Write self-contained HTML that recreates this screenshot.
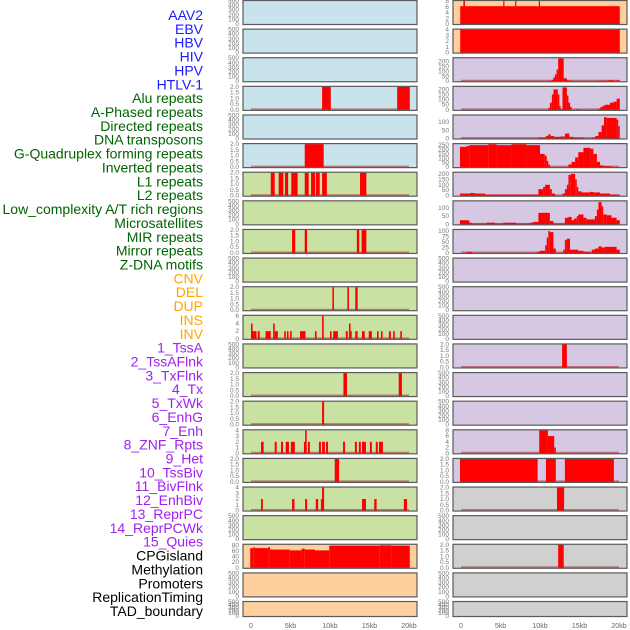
<!DOCTYPE html>
<html><head><meta charset="utf-8"><style>
html,body{margin:0;padding:0;background:#fff;width:630px;height:630px;overflow:hidden}
svg{display:block}
</style></head><body>
<svg id="chart" width="630" height="630" xmlns="http://www.w3.org/2000/svg" font-family="Liberation Sans, sans-serif"></svg>
<script>
// ---- label data ----
const trackLabels = ["AAV2","EBV","HBV","HIV","HPV","HTLV-1","Alu repeats","A-Phased repeats","Directed repeats","DNA transposons","G-Quadruplex forming repeats","Inverted repeats","L1 repeats","L2 repeats","Low_complexity A/T rich regions","Microsatellites","MIR repeats","Mirror repeats","Z-DNA motifs","CNV","DEL","DUP","INS","INV","1_TssA","2_TssAFlnk","3_TxFlnk","4_Tx","5_TxWk","6_EnhG","7_Enh","8_ZNF_Rpts","9_Het","10_TssBiv","11_BivFlnk","12_EnhBiv","13_ReprPC","14_ReprPCWk","15_Quies","CPGisland","Methylation","Promoters","ReplicationTiming","TAD_boundary"];
const labelGroups = [6,13,5,15,5];
const groupColors = ["#1a1aff","#006400","#ffa500","#a020f0","#000000"];
const xTicks = [0,5,10,15,20];
const xTickLabels = ["0","5kb","10kb","15kb","20kb"];

// ---- y tick sets ----
const tEmpty=[0,100,200,300,400,500], t2=[0,0.5,1,1.5,2], t6=[0,2,4,6], t4=[0,1,2,3,4], t80=[0,20,40,60,80], t8=[0,2,4,6,8];
const t200=[0,50,100,150,200], t100=[0,50,100], t250=[0,50,100,150,200,250], t100q=[0,25,50,75,100];

// ---- left column bar data [startKb, endKb, value] ----
const L3=[[9.0,10.1,2],[18.5,20.1,2]];
const L5=[[6.8,9.2,2]];
const L6=[[2.5,3.0,2],[3.5,4.1,2],[4.3,4.7,2],[5.1,5.9,2],[6.8,7.3,2],[7.6,8.1,2],[8.2,8.7,2],[9.0,9.6,2],[13.8,14.6,2]];
const L8=[[5.2,5.6,2],[6.8,7.1,2],[13.4,13.7,2],[14.0,14.6,2]];
const L10=[[10.3,10.5,2],[12.2,12.4,2],[13.2,13.5,2]];
const L11=[[0,0.2,4],[0.1,0.7,2],[0.85,1.1,2],[1.85,2.5,2],[2.8,3.0,4],[3.0,3.4,2],[4.2,4.4,2],[4.55,4.75,2],[4.95,5.15,2],[6.2,6.9,2],[8.1,8.3,2],[9.0,9.2,6],[10.0,10.2,2],[10.4,11.0,2],[12.0,12.25,2],[12.4,12.6,4],[12.6,12.75,2],[13.2,13.5,2],[14.05,14.4,2],[14.9,15.3,2],[15.95,16.15,2],[16.45,16.65,2],[17.45,17.7,2],[18.0,18.2,2],[18.9,19.1,2]];
const L13=[[11.7,12.15,2],[18.7,19.1,2]];
const L14=[[9.0,9.25,2]];
const L15=[[1.27,1.6,2],[3.0,3.25,2],[3.8,4.05,2],[4.4,4.8,2],[5.05,5.55,2],[6.7,6.95,2],[6.85,7.05,4],[7.2,7.45,2],[8.6,8.85,2],[9.0,9.35,2],[9.5,9.75,2],[11.65,11.9,2],[13.15,13.4,2],[13.65,13.9,2],[14.05,14.55,2],[15.05,15.3,2],[15.8,16.05,2],[16.2,16.7,2]];
const L16=[[10.6,11.15,2]];
const L17=[[1.27,1.5,2],[5.2,5.5,2],[6.85,7.1,2],[8.2,8.5,2],[8.85,9.25,2],[9.0,9.25,4],[14.05,14.55,2],[15.6,15.9,2],[19.35,19.75,2]];
const L19=[[-0.1,0.3,70],[0.3,0.5,73],[0.5,2.2,70],[2.2,2.4,74],[2.4,4.9,65],[4.9,6.4,62],[6.4,6.8,68],[6.8,8.1,65],[8.1,9.9,62],[9.9,16.3,79],[16.3,17.8,80],[17.8,20.1,79]];

// ---- right column bar data ----
const R0=[[-0.1,20.1,6.2],[0.3,0.5,8],[5.35,5.5,8],[6.85,7.0,8],[9.85,10.0,8]];
const R1=[[-0.1,20.1,4]];
const R2=[[11.05,11.5,5],[11.5,11.7,15],[11.7,11.9,40],[11.9,12.1,70],[12.1,12.3,120],[12.3,13.0,232],[13.0,13.4,30],[13.4,13.7,10],[13.7,14.2,5],[17.4,18.65,5],[18.65,19.3,10],[19.3,19.7,5],[19.7,20.1,10]];
const R3=[[11.05,11.25,20],[11.25,11.5,70],[11.5,11.7,150],[11.7,12.25,200],[12.25,12.45,150],[12.45,12.6,40],[12.6,12.85,5],[12.85,13.4,220],[13.4,13.6,140],[13.6,13.8,70],[13.8,14.0,30],[14.55,15.05,5],[17.4,17.6,10],[17.6,17.9,25],[17.9,18.2,40],[18.2,18.85,50],[18.85,19.3,70],[19.3,19.7,80],[19.7,20.1,110]];
const R4=[[9.8,10.75,5],[10.75,11.05,15],[11.05,11.35,25],[11.35,11.8,15],[11.8,12.55,10],[12.55,13.15,12],[13.15,13.7,30],[13.7,14.15,10],[14.15,15.5,5],[16.55,17.0,5],[17.0,17.4,15],[17.4,17.8,40],[17.8,18.1,80],[18.1,18.45,130],[18.45,19.7,125],[19.7,19.9,115],[19.9,20.1,75]];
const R5=[[-0.13,0.7,230],[0.7,1.05,240],[1.05,3.45,250],[3.45,4.5,260],[4.5,6.4,250],[6.4,8.3,260],[8.3,10.0,250],[10.0,10.6,150],[10.6,10.85,130],[10.85,11.05,70],[11.05,11.25,30],[13.6,14.0,30],[14.0,14.45,60],[14.45,14.85,110],[14.85,15.5,170],[15.5,16.35,220],[16.35,16.75,210],[16.75,17.2,150],[17.2,17.6,60],[17.6,18.0,20],[18.0,19.05,10]];
const R6=[[-0.13,1.15,20],[1.15,1.75,25],[1.75,3.05,20],[3.05,9.8,10],[9.8,10.4,60],[10.4,10.65,80],[10.65,11.25,100],[11.25,11.5,60],[11.5,11.9,20],[12.85,13.15,20],[13.15,13.4,60],[13.4,13.6,100],[13.6,13.9,190],[13.9,14.45,200],[14.45,14.65,150],[14.65,14.85,80],[14.85,15.25,40],[15.25,16.3,30],[16.3,16.75,35],[16.75,17.6,30],[17.6,18.85,20],[18.85,20.1,10]];
const R7=[[-0.13,1.05,25],[1.05,1.35,10],[1.35,3.25,5],[3.25,4.3,10],[4.3,5.35,5],[5.35,6.95,10],[6.95,8.75,5],[8.75,9.15,10],[9.15,9.8,15],[9.8,11.25,70],[11.25,11.7,20],[11.7,13.15,5],[13.15,13.6,40],[13.6,14.0,45],[14.0,14.3,25],[14.3,14.65,35],[14.65,14.85,50],[14.85,15.5,60],[15.5,15.9,40],[15.9,16.95,30],[16.95,17.2,50],[17.2,17.4,90],[17.4,17.8,135],[17.8,18.0,110],[18.0,18.45,60],[18.45,19.05,55],[19.05,19.7,40],[19.7,20.1,25]];
const R8=[[0.7,1.35,5],[9.6,10.0,5],[10.0,10.65,10],[10.65,10.85,35],[10.85,11.05,70],[11.05,11.25,100],[11.25,11.7,95],[11.7,12.0,20],[12.95,13.15,15],[13.15,13.4,60],[13.4,13.8,65],[13.8,14.85,15],[14.85,15.5,10],[15.5,16.35,5],[16.55,16.95,15],[16.95,17.4,20],[17.4,17.8,30],[17.8,18.2,25],[18.2,19.7,28],[19.7,20.1,15]];
const R12=[[12.8,13.4,2]];
const R15=[[9.9,11.0,8],[11.0,11.8,6],[11.8,12.0,2]];
const R16=[[-0.13,9.7,2],[10.75,12.0,2],[13.15,19.35,2]];
const R17=[[12.15,13.05,2]];
const R19=[[12.3,13.0,2]];

// ---- colors ----
const BLUE="#c8e3ec", GREEN="#c9e1a3", PEACH="#ffcf9e", LAV="#d6c7e3", GRAY="#d0d0d0";
// panels: [col,row,bg,ticks,ymax,bars,decimals]
const panels=[
 [0,0,BLUE,tEmpty,500,null,0],[0,1,BLUE,tEmpty,500,null,0],[0,2,BLUE,tEmpty,500,null,0],[0,3,BLUE,t2,2,L3,1],[0,4,BLUE,tEmpty,500,null,0],[0,5,BLUE,t2,2,L5,1],
 [0,6,GREEN,t2,2,L6,1],[0,7,GREEN,tEmpty,500,null,0],[0,8,GREEN,t2,2,L8,1],[0,9,GREEN,tEmpty,500,null,0],[0,10,GREEN,t2,2,L10,1],[0,11,GREEN,t6,6,L11,0],
 [0,12,GREEN,tEmpty,500,null,0],[0,13,GREEN,t2,2,L13,1],[0,14,GREEN,t2,2,L14,1],[0,15,GREEN,t4,4,L15,0],[0,16,GREEN,t2,2,L16,1],[0,17,GREEN,t4,4,L17,0],[0,18,GREEN,tEmpty,500,null,0],
 [0,19,PEACH,t80,82,L19,0],[0,20,PEACH,tEmpty,500,null,0],[0,21,PEACH,tEmpty,500,null,0],
 [1,0,PEACH,t8,8,R0,0],[1,1,PEACH,t4,4,R1,0],[1,2,LAV,t200,235,R2,0],[1,3,LAV,t200,225,R3,0],[1,4,LAV,t100,140,R4,0],[1,5,LAV,t250,262,R5,0],
 [1,6,LAV,t200,210,R6,0],[1,7,LAV,t100,140,R7,0],[1,8,LAV,t100q,105,R8,0],[1,9,LAV,tEmpty,500,null,0],[1,10,LAV,tEmpty,500,null,0],[1,11,LAV,tEmpty,500,null,0],
 [1,12,LAV,t2,2,R12,1],[1,13,LAV,tEmpty,500,null,0],[1,14,LAV,tEmpty,500,null,0],[1,15,LAV,t8,8,R15,0],[1,16,LAV,t2,2,R16,1],
 [1,17,GRAY,t2,2,R17,1],[1,18,GRAY,tEmpty,500,null,0],[1,19,GRAY,t2,2,R19,1],[1,20,GRAY,tEmpty,500,null,0],[1,21,GRAY,tEmpty,500,null,0]
];

const svg=document.getElementById('chart');
const NS="http://www.w3.org/2000/svg";
function mk(tag,attrs,parent){const e=document.createElementNS(NS,tag);for(const k in attrs)e.setAttribute(k,attrs[k]);(parent||svg).appendChild(e);return e;}
const colX=[243,453], PW=174;
function xScale(kb,col){return colX[col]+8+kb*7.9;}
function rowTop(r){return r*28.62;}
function rowH(r){return r===21?16:25;}

// left labels
let li=0;
labelGroups.forEach((n,g)=>{for(let k=0;k<n;k++){
  const t=mk('text',{x:203,y:15+li*13.86+5,'text-anchor':'end','font-size':'14',fill:groupColors[g]});
  t.textContent=trackLabels[li];
  
  
  li++;}});

panels.forEach(p=>{
  const [col,row,bg,ticks,ymax,bars,dec]=p;
  const x0=colX[col], top=rowTop(row), h=rowH(row);
  const g=mk('g',{});
  
  
  const bottom=top+h-1;
  const yS=v=>bottom-v/ymax*(h-2);
  mk('rect',{x:x0,y:top+0.5,width:PW,height:h-1,fill:bg},g);
  if(bars){
    const bl=mk('line',{x1:xScale(0,col),x2:xScale(20,col),y1:bottom-0.5,y2:bottom-0.5,stroke:'rgba(170,40,40,0.55)','stroke-width':2},g);
    
    
    bars.forEach(b=>{
      const xa=xScale(b[0],col), xb=xScale(b[1],col);
      const r=mk('rect',{x:xa,y:yS(b[2]),width:Math.max(1,xb-xa),height:bottom-yS(b[2]),fill:'#ff0000'},g);
      
      
    });
  }
  mk('rect',{x:x0,y:top+0.5,width:PW,height:h-1,fill:'none',stroke:'#5a5a5a','stroke-width':1.2},g);
  ticks.forEach(v=>{
    const t=mk('text',{x:x0-4,y:yS(v)+2,'text-anchor':'end','font-size':'6.5',fill:'#777'},g);
    t.textContent=dec?v.toFixed(1):String(v);
    
    
  });
});

[0,1].forEach(col=>{xTicks.forEach((v,i)=>{
  const t=mk('text',{x:xScale(v,col),y:628,'text-anchor':'middle','font-size':'7',fill:'#666'});
  t.textContent=xTickLabels[i];
  
  
});});
</script>
</body></html>
